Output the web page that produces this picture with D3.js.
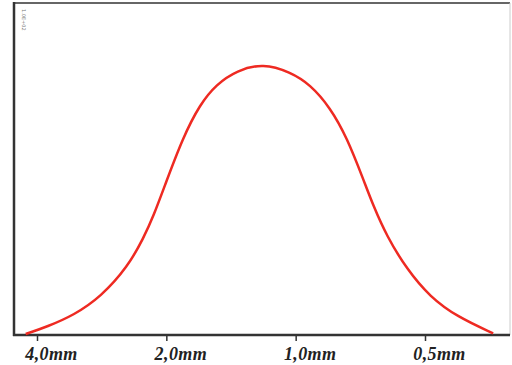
<!DOCTYPE html>
<html>
<head>
<meta charset="utf-8">
<script src="https://cdn.jsdelivr.net/npm/d3@7"></script>
<style>
  body { margin: 0; background: #fff; }
</style>
</head>
<body>
<script>
const w = 512;
const h = 365;

// grain size (mm) and frequency
const sizes = [4.25, 3.79, 3.28, 2.84, 2.46, 2.26, 2.14, 2.01, 1.83, 1.67, 1.53, 1.37,
               1.19, 1.03, 0.926, 0.831, 0.760, 0.695, 0.660, 0.614, 0.551, 0.487, 0.421, 0.347];
const freqs = [0.03, 0.25, 0.60, 1.15, 2.05, 2.92, 3.60, 4.55, 5.95, 6.95, 7.55, 7.97,
               8.18, 7.92, 7.55, 6.85, 5.95, 4.67, 3.90, 2.98, 1.98, 1.15, 0.55, 0.05];
const tickValues = [4, 2, 1, 0.5];
const tickLabels = ["4,0mm", "2,0mm", "1,0mm", "0,5mm"];

const frameLeft = 14, frameRight = 510, frameTop = 3, frameBottom = 335;

const svg = d3.select("body")
              .append("svg")
              .attr("width", w)
              .attr("height", h);

const x = d3.scaleLog()
            .domain([4, 0.5])
            .range([37, 425]);

const y = d3.scaleLinear()
            .domain([0, 10])
            .range([frameBottom, frameTop]);

// frame
svg.append("line")
   .attr("x1", frameLeft).attr("x2", frameRight)
   .attr("y1", frameTop).attr("y2", frameTop)
   .attr("stroke", "#666").attr("stroke-width", 2);
svg.append("line")
   .attr("x1", frameRight).attr("x2", frameRight)
   .attr("y1", frameTop).attr("y2", frameBottom)
   .attr("stroke", "#ccc").attr("stroke-width", 1);
svg.append("line")
   .attr("x1", frameLeft).attr("x2", frameLeft)
   .attr("y1", frameTop - 1).attr("y2", frameBottom + 1)
   .attr("stroke", "#333").attr("stroke-width", 2.5);

// tiny rotated label top-left
svg.append("text")
   .attr("transform", "translate(22,9) rotate(90)")
   .attr("font-family", "DejaVu Sans")
   .attr("font-size", 5)
   .attr("fill", "#777")
   .text("1.0E+02");

const axis = d3.axisBottom(x)
               .tickValues(tickValues)
               .tickSize(6)
               .tickSizeOuter(0)
               .tickFormat((d, i) => tickLabels[i]);

const ax = svg.append("g")
              .attr("transform", "translate(0," + frameBottom + ")")
              .call(axis);

ax.select(".domain").remove();
ax.append("line")
  .attr("x1", frameLeft - 1).attr("x2", frameRight)
  .attr("stroke", "#333").attr("stroke-width", 2.5);
ax.selectAll(".tick line").attr("stroke", "#333").attr("stroke-width", 1.5);
ax.selectAll(".tick text")
  .attr("y", 25)
  .attr("dy", 0)
  .attr("dx", 14)
  .attr("fill", "#222")
  .attr("font-family", "'Liberation Serif', 'DejaVu Serif', serif")
  .attr("font-size", 18)
  .attr("letter-spacing", 0.4)
  .attr("font-weight", "bold")
  .attr("font-style", "italic");

const line = d3.line()
               .x((d, i) => x(sizes[i]))
               .y(d => y(d))
               .curve(d3.curveBasis);

svg.append("path")
   .datum(freqs)
   .attr("fill", "none")
   .attr("stroke", "#ee2a22")
   .attr("stroke-width", 2.5)
   .attr("d", line);
</script>
</body>
</html>
